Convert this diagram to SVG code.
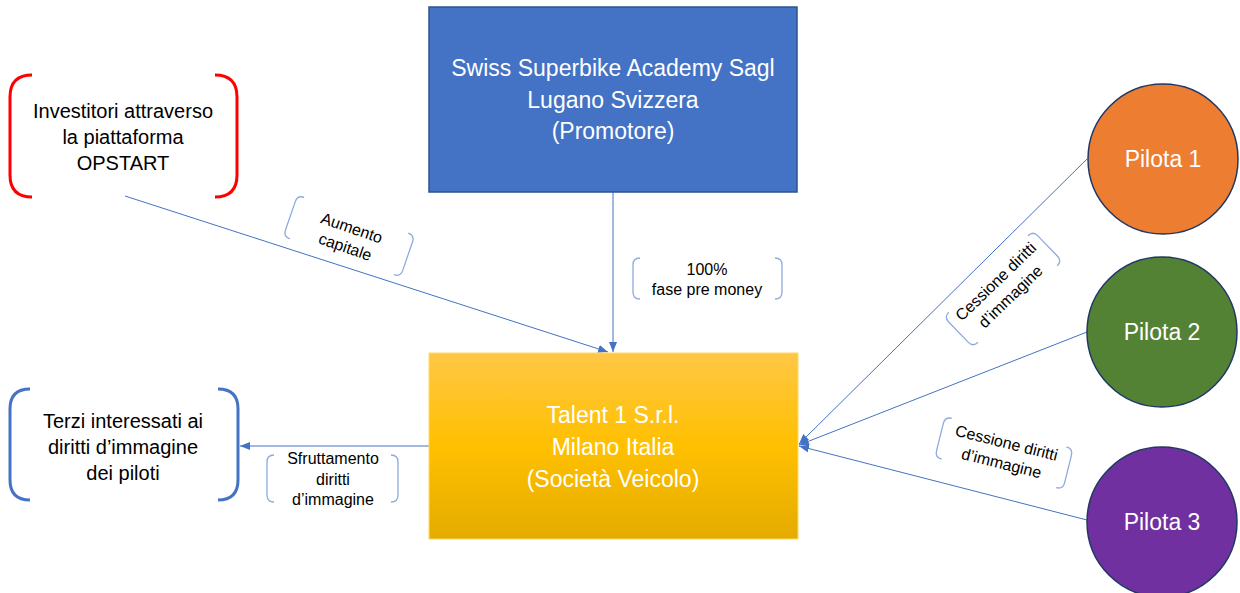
<svg xmlns="http://www.w3.org/2000/svg" width="1240" height="593" viewBox="0 0 1240 593">
<style>
text{font-family:"Liberation Sans",Arial,sans-serif;text-anchor:middle}
.big{font-size:23px;fill:#ffffff}
.side{font-size:20px;fill:#000000}
.lbl{font-size:16px;fill:#000000}
.conn{stroke:#4472C4;stroke-width:1;fill:none}
.br{stroke:#8FAADC;stroke-width:1.3;fill:none}
.circ{stroke:#1F3864;stroke-width:1.5}
</style>
<defs>
<linearGradient id="yg" x1="0" y1="0" x2="0" y2="1">
<stop offset="0" stop-color="#FFC746"/>
<stop offset="0.5" stop-color="#FFC000"/>
<stop offset="1" stop-color="#E5AC00"/>
</linearGradient>
<marker id="ah" markerWidth="10" markerHeight="8" refX="10" refY="4" orient="auto" markerUnits="userSpaceOnUse">
<path d="M0,0 L10,4 L0,8 z" fill="#4472C4"/>
</marker>
</defs>
<rect width="1240" height="593" fill="#ffffff"/>

<g id="connectors">
<line class="conn" x1="613" y1="192" x2="613" y2="352" marker-end="url(#ah)"/>
<line class="conn" x1="125" y1="196" x2="608" y2="352" marker-end="url(#ah)"/>
<line class="conn" x1="429" y1="446" x2="240" y2="446" marker-end="url(#ah)"/>
<line class="conn" x1="1087" y1="159" x2="799" y2="444" marker-end="url(#ah)"/>
<line class="conn" x1="1087" y1="332" x2="799" y2="445" marker-end="url(#ah)"/>
<line class="conn" x1="1087" y1="520" x2="799" y2="446" marker-end="url(#ah)"/>
</g>

<g id="promotore">
<rect x="429" y="7" width="368" height="185" fill="#4472C4" stroke="#2F528F" stroke-width="1.5"/>
<text class="big" x="613" y="76">Swiss Superbike Academy Sagl</text>
<text class="big" x="613" y="108">Lugano Svizzera</text>
<text class="big" x="613" y="139">(Promotore)</text>
</g>

<g id="talent">
<rect x="429" y="353" width="369" height="186" fill="url(#yg)" stroke="#FFD966" stroke-width="1"/>
<text class="big" x="613" y="423">Talent 1 S.r.l.</text>
<text class="big" x="613" y="455">Milano Italia</text>
<text class="big" x="613" y="487">(Società Veicolo)</text>
</g>

<g id="investitori">
<path d="M32,75 Q10,75 10,97 L10,175 Q10,197 32,197" fill="none" stroke="#FF0000" stroke-width="3"/>
<path d="M215,75 Q237,75 237,97 L237,175 Q237,197 215,197" fill="none" stroke="#FF0000" stroke-width="3"/>
<text class="side" x="123" y="118">Investitori attraverso</text>
<text class="side" x="123" y="144">la piattaforma</text>
<text class="side" x="123" y="170">OPSTART</text>
</g>

<g id="terzi">
<path d="M30,389 Q10,389 10,409 L10,480 Q10,500 30,500" fill="none" stroke="#4472C4" stroke-width="3"/>
<path d="M218,389 Q238,389 238,409 L238,480 Q238,500 218,500" fill="none" stroke="#4472C4" stroke-width="3"/>
<text class="side" x="123" y="428">Terzi interessati ai</text>
<text class="side" x="123" y="454">diritti d’immagine</text>
<text class="side" x="123" y="480">dei piloti</text>
</g>

<g id="pilota1">
<circle class="circ" cx="1163" cy="159" r="75" fill="#ED7D31"/>
<text class="big" x="1163" y="167">Pilota 1</text>
</g>
<g id="pilota2">
<circle class="circ" cx="1162" cy="332" r="75" fill="#548235"/>
<text class="big" x="1162" y="340">Pilota 2</text>
</g>
<g id="pilota3">
<circle class="circ" cx="1162" cy="522" r="75" fill="#7030A0"/>
<text class="big" x="1162" y="530">Pilota 3</text>
</g>

<g id="label-aumento" transform="translate(349,236) rotate(19)">
<path class="br" d="M-55,-22 Q-62,-22 -62,-15 L-62,15 Q-62,22 -55,22"/>
<path class="br" d="M55,-22 Q62,-22 62,-15 L62,15 Q62,22 55,22"/>
<text class="lbl" x="0" y="-3">Aumento</text>
<text class="lbl" x="0" y="17">capitale</text>
</g>

<g id="label-100">
<path class="br" d="M640,258 Q633,258 633,265 L633,292 Q633,299 640,299"/>
<path class="br" d="M775,258 Q782,258 782,265 L782,292 Q782,299 775,299"/>
<text class="lbl" x="707" y="275">100%</text>
<text class="lbl" x="707" y="295">fase pre money</text>
</g>

<g id="label-sfruttamento">
<path class="br" d="M274,455 Q267,455 267,462 L267,495 Q267,502 274,502"/>
<path class="br" d="M391,455 Q398,455 398,462 L398,495 Q398,502 391,502"/>
<text class="lbl" x="333" y="464">Sfruttamento</text>
<text class="lbl" x="333" y="485">diritti</text>
<text class="lbl" x="333" y="505">d’immagine</text>
</g>

<g id="label-cessione1" transform="translate(1003,289) rotate(-44)">
<path class="br" d="M-55,-21 Q-62,-21 -62,-14 L-62,14 Q-62,21 -55,21"/>
<path class="br" d="M55,-21 Q62,-21 62,-14 L62,14 Q62,21 55,21"/>
<text class="lbl" x="0" y="-5">Cessione diritti</text>
<text class="lbl" x="0" y="16">d’immagine</text>
</g>

<g id="label-cessione2" transform="translate(1004,453) rotate(14)">
<path class="br" d="M-59,-21 Q-66,-21 -66,-14 L-66,14 Q-66,21 -59,21"/>
<path class="br" d="M59,-21 Q66,-21 66,-14 L66,14 Q66,21 59,21"/>
<text class="lbl" x="0" y="-5">Cessione diritti</text>
<text class="lbl" x="0" y="16">d’immagine</text>
</g>
</svg>
